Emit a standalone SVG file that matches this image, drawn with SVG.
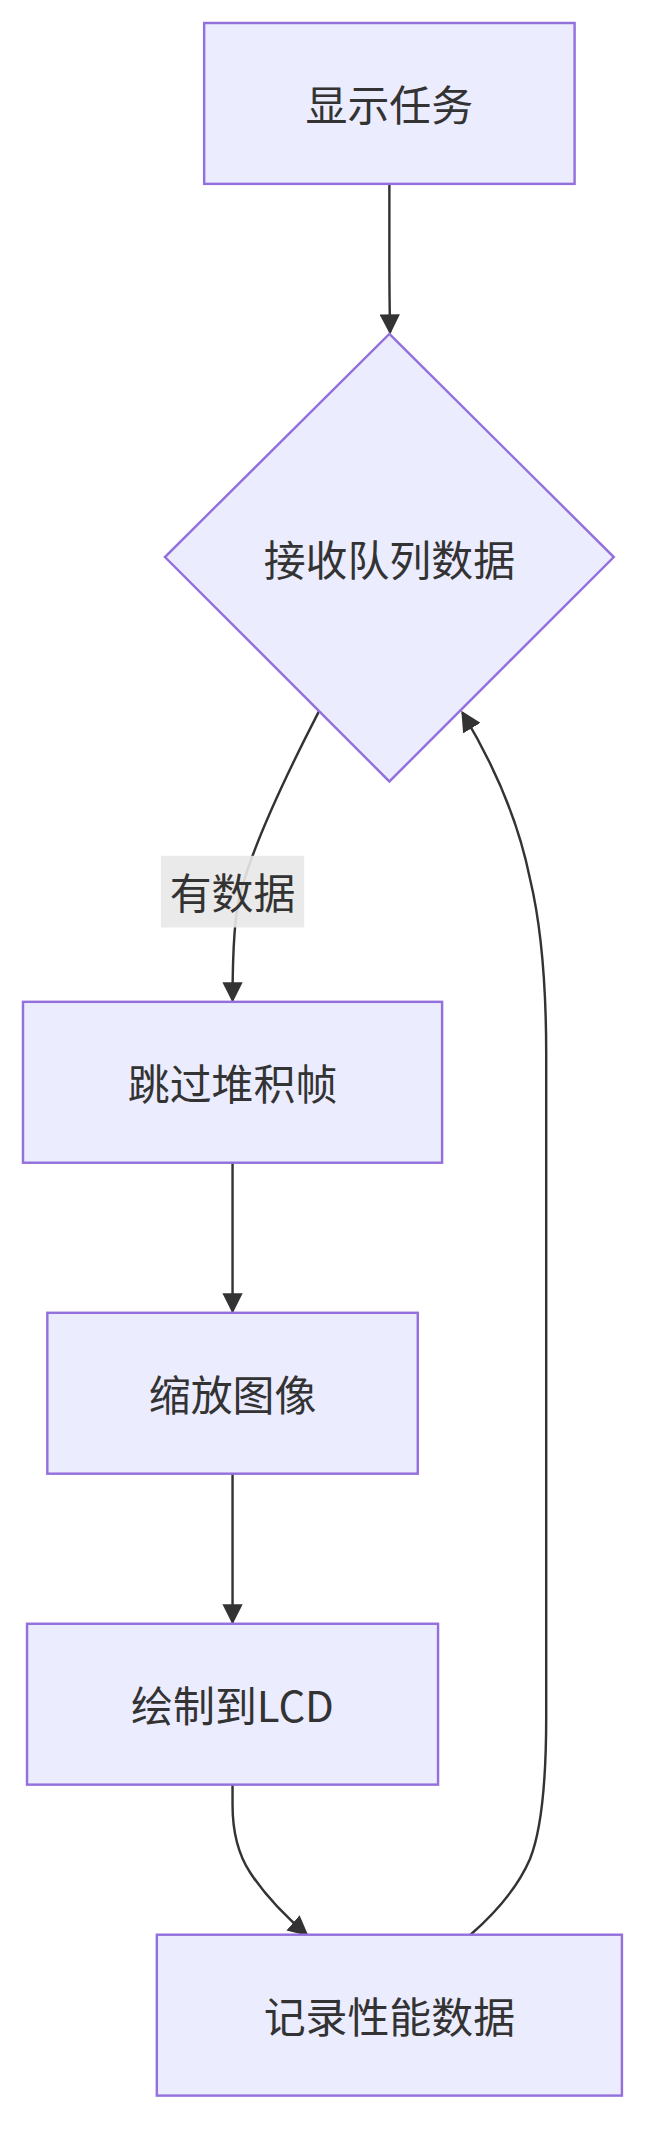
<svg xmlns="http://www.w3.org/2000/svg" width="649" height="2129" viewBox="0 0 649 2129">
<defs>
<marker id="arr" viewBox="0 0 10 10" refX="9" refY="5" markerWidth="15" markerHeight="15" orient="auto" markerUnits="userSpaceOnUse"><path d="M0,0L10,5L0,10z" fill="#333"/></marker>
<style>
.n{fill:#ECECFF;stroke:#9370DB;stroke-width:1.8}
.t{font-family:"Noto Sans CJK SC","Noto Sans",sans-serif;font-size:31px;fill:#333;text-anchor:middle;dominant-baseline:central}
.e{fill:none;stroke:#333;stroke-width:1.8;marker-end:url(#arr)}
</style>
</defs>
<rect width="649" height="2129" fill="#fff"/>
<g transform="scale(1.352)">
<g id="connectors">
<path class="e" d="M288,136 L288,195 Q288,215 288.5,246"/>
<path class="e" d="M236,526 Q190,615 178,660 Q172,680 172,740"/>
<path class="e" d="M172,860 L172,970"/>
<path class="e" d="M172,1090 L172,1200"/>
<path class="e" d="M172,1320 L172,1335 Q172,1365 185,1385 Q200,1408 227,1431"/>
<path class="e" d="M348,1431 Q380,1403 392,1375 Q404,1345 404,1270 L404,780 Q404,700 392,650 Q380,590 342,527"/>
</g>
<g id="label-yes"><rect x="119" y="633" width="106" height="53" fill="#e8e8e8" opacity="0.9"/><text class="t" x="172" y="659">有数据</text></g>
<g id="n1"><rect class="n" x="151" y="17" width="274" height="119"/><text class="t" x="288" y="76">显示任务</text></g>
<g id="n2"><polygon class="n" points="288,247 454,412 288,578 122,412"/><text class="t" x="288" y="412">接收队列数据</text></g>
<g id="n3"><rect class="n" x="17" y="741" width="310" height="119"/><text class="t" x="172" y="800">跳过堆积帧</text></g>
<g id="n4"><rect class="n" x="35" y="971" width="274" height="119"/><text class="t" x="172" y="1030">缩放图像</text></g>
<g id="n5"><rect class="n" x="20" y="1201" width="304" height="119"/><text class="t" x="172" y="1260">绘制到LCD</text></g>
<g id="n6"><rect class="n" x="116" y="1431" width="344" height="119"/><text class="t" x="288" y="1490">记录性能数据</text></g>
</g>
</svg>
